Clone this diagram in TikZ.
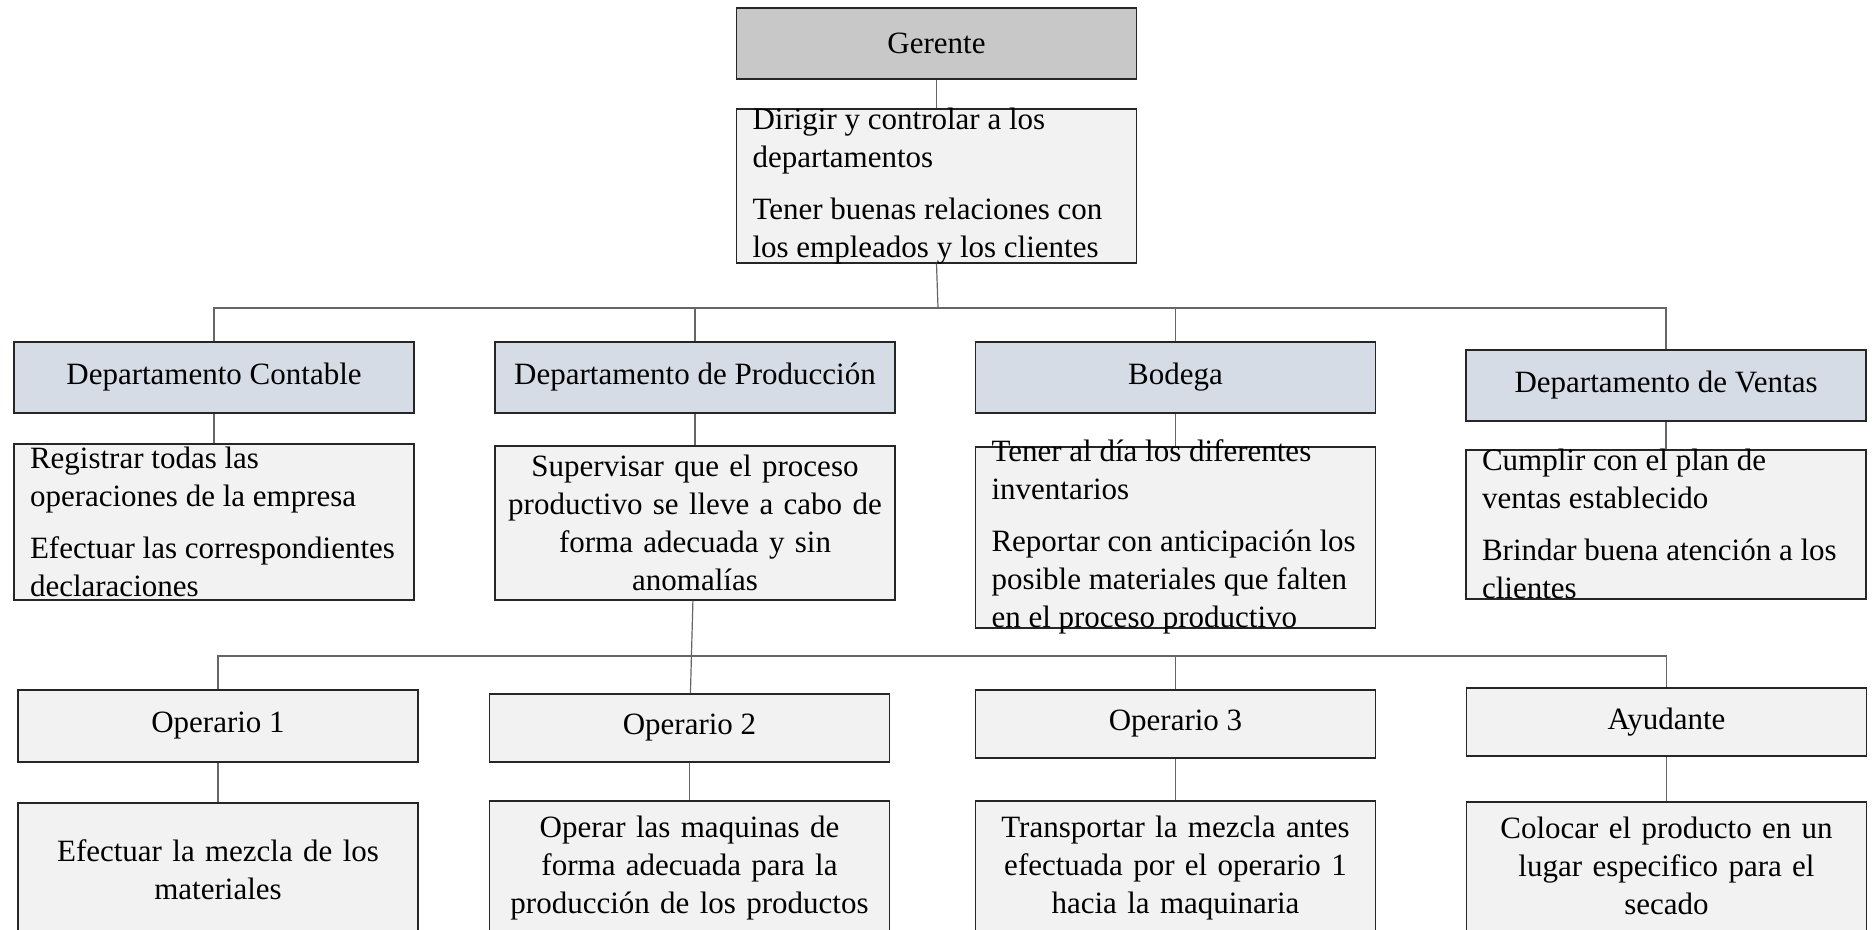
\documentclass[tikz,border=0pt]{standalone}
\usepackage{fontspec}
\setmainfont{Liberation Serif}
\usetikzlibrary{positioning}
\definecolor{mygray}{RGB}{200,200,200}
\definecolor{myblue}{RGB}{214,220,229}
\definecolor{mylight}{RGB}{242,242,242}
\newcommand{\dutytext}[2]{\parbox[c][#1][c]{184pt}{\raggedright #2}}

\begin{document}
\begin{tikzpicture}[x=0.5pt,y=-0.5pt,
  font=\fontsize{15.5}{19}\selectfont,
  box/.style={draw=black!85,line width=0.9pt,minimum width=200pt,inner sep=0pt},
  gnode/.style={box,fill=mygray,minimum height=35.5pt},
  dnode/.style={box,fill=myblue,minimum height=35.5pt},
  onode/.style={box,fill=mylight,minimum height=34pt},
  tnode/.style={box,fill=mylight,inner xsep=8pt,inner ysep=0pt},
  cnode/.style={box,fill=mylight,text width=196pt,align=center},
  link/.style={draw=black!60,line width=0.6pt}]

  \useasboundingbox (0,0) rectangle (1872,930);

  \node[gnode] (ger) at (936.5,43.5) {Gerente};
  \node[tnode,below=14pt of ger] (gerD) {\dutytext{77pt}{Dirigir y controlar a los\\departamentos\\[7pt]Tener buenas relaciones con\\los empleados y los clientes}};

  % departamentos
  \node[dnode] (cont) at (214,377.5) {Departamento Contable};
  \node[dnode] (prod) at (695,377.5) {Departamento de Producción};
  \node[dnode] (bod) at (1175.5,377.5) {Bodega};
  \node[dnode] (vent) at (1666,385.5) {Departamento de Ventas};

  \node[tnode,below=14.5pt of cont] (contD) {\dutytext{78pt}{Registrar todas las\\operaciones de la empresa\\[7pt]Efectuar las correspondientes\\declaraciones}};
  \node[cnode,minimum height=77pt,below=15.5pt of prod] (prodD) {Supervisar que el proceso\\productivo se lleve a cabo de\\forma adecuada y sin\\anomalías};
  \node[tnode,below=16pt of bod] (bodD) {\dutytext{90.5pt}{Tener al día los diferentes\\inventarios\\[7pt]Reportar con anticipación los\\posible materiales que falten\\en el proceso productivo}};
  \node[tnode,below=13.5pt of vent] (ventD) {\dutytext{74.5pt}{Cumplir con el plan de\\ventas establecido\\[7pt]Brindar buena atención a los\\clientes}};

  % operarios
  \node[onode,minimum height=36pt] (op1) at (218,726) {Operario 1};
  \node[onode] (op2) at (689.5,728) {Operario 2};
  \node[onode] (op3) at (1175.5,724) {Operario 3};
  \node[onode] (ayu) at (1666.5,722) {Ayudante};

  \node[cnode,minimum height=66.5pt,below=19.5pt of op1] (op1D) {Efectuar la mezcla de los\\materiales};
  \node[cnode,minimum height=67.5pt,below=18.5pt of op2] (op2D) {Operar las maquinas de\\forma adecuada para la\\producción de los productos};
  \node[cnode,minimum height=67.5pt,below=20.5pt of op3] (op3D) {Transportar la mezcla antes\\efectuada por el operario 1\\hacia la maquinaria};
  \node[cnode,minimum height=64.5pt,below=22pt of ayu] (ayuD) {Colocar el producto en un\\lugar especifico para el\\secado};

  \coordinate (bus1) at (938,308);
  \coordinate (bus2) at (689,656);

  % first level
  \draw[link] (ger) -- (gerD);
  \draw[link] (gerD.south) -- (bus1);
  \draw[link] (cont.north) |- (bus1) -| (vent.north);
  \draw[link] (prod.north) -- (prod.north |- bus1);
  \draw[link] (bod.north) -- (bod.north |- bus1);
  \draw[link] (cont) -- (contD) (prod) -- (prodD) (bod) -- (bodD) (vent) -- (ventD);

  % second level
  \draw[link] (prodD) -- (op2);
  \draw[link] (op1.north) |- (bus2) -| (ayu.north);
  \draw[link] (op3.north) -- (op3.north |- bus2);
  \draw[link] (op1) -- (op1D) (op2) -- (op2D) (op3) -- (op3D) (ayu) -- (ayuD);

\end{tikzpicture}
\end{document}
